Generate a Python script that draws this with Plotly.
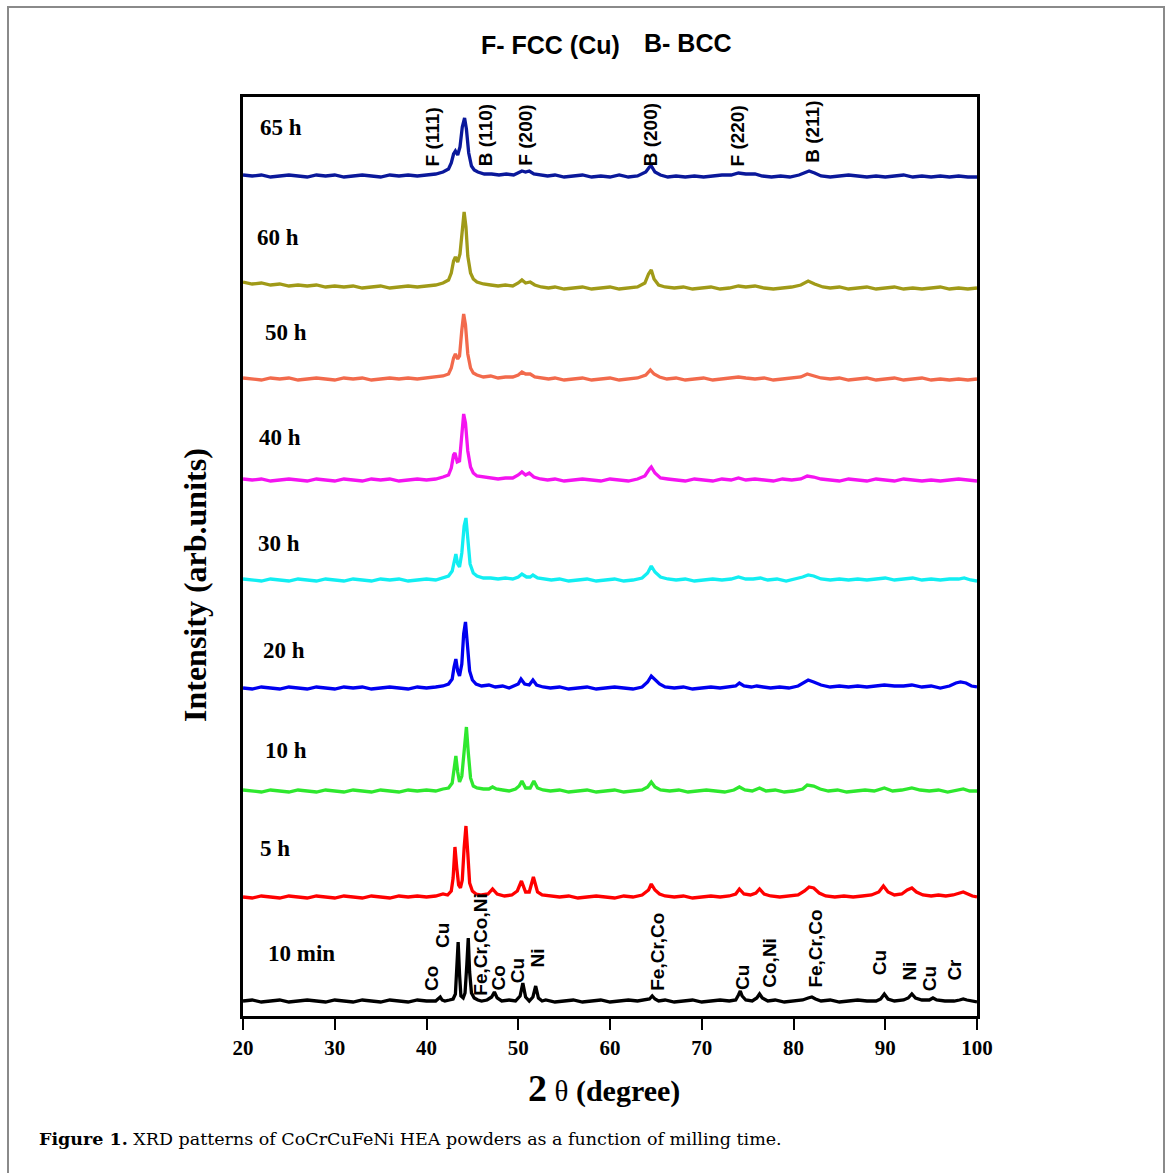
import plotly.graph_objects as go

# ---------------- data (heights above each pattern's own baseline, arb. units) ----------------
x_10min = [20,21,22,23,24,25,26,27,28,29,30,31,32,33,34,35,36,37,38,39,40,41,41.3,41.5,41.7,42,42.5,42.9,43.15,43.3,43.45,43.6,43.75,44.0,44.2,44.4,44.55,44.7,44.9,45.2,45.6,46,46.6,47.1,47.4,47.7,48.2,49,49.7,50.2,50.5,50.8,51.2,51.6,51.9,52.2,52.6,53,54,55,56,57,58,59,60,61,62,63,64,64.3,64.6,64.9,65.3,66,67,68,69,70,71,72,73,73.7,74.0,74.2,74.4,74.8,75.5,76.0,76.3,76.6,77.2,78,79,80,81,81.6,82.0,82.4,83,84,85,86,87,88,89,89.5,89.9,90.3,91,92,92.5,92.9,93.3,94,94.8,95.2,95.6,96.5,97.5,98.1,98.5,98.9,99.5,100]
y_10min = [1,2,0,1,2,0,1,2,1,0,2,1,0,2,1,0,2,1,0,2,1,1,3,5,2,1,2,3,8,30,60,28,6,4,9,38,64,30,9,4,2,1,2,5,10,4,1,2,1,6,19,5,1,5,16,4,1,2,0,1,2,0,1,2,0,1,2,1,2,3,6,3,1,2,0,1,2,0,1,2,1,2,7,11,6,2,1,4,8,4,1,2,0,1,2,4,5,3,1,2,0,1,2,1,1,3,8,3,1,2,4,8,4,2,2,4,2,1,1,2,3,2,1,0]

x_5h = [20,21,22,23,24,25,26,27,28,29,30,31,32,33,34,35,36,37,38,39,40,41,41.8,42.3,42.7,42.9,43.1,43.3,43.5,43.7,43.9,44.1,44.3,44.5,44.7,45.0,45.4,46,46.7,47.2,47.7,48.5,49.3,49.9,50.35,50.8,51.2,51.65,52.1,52.6,53.5,54.5,55.5,56.5,57.5,58.5,59.5,60.5,61.5,62.5,63.5,64.2,64.5,64.9,65.4,66,67,68,69,70,71,72,73,73.7,74.1,74.6,75.3,75.9,76.3,76.8,77.5,78.5,79.5,80.5,81.2,81.7,82.2,82.8,83.5,84.5,85.5,86.5,87.5,88.5,89.3,89.8,90.3,91,91.8,92.4,92.9,93.4,94.1,95,95.8,96.6,97.4,98.1,98.5,99,99.5,100]
y_5h = [1,0,2,1,0,2,1,0,2,1,0,2,1,0,2,1,0,2,1,2,1,2,4,3,7,20,51,30,13,10,18,50,72,45,15,7,4,3,4,9,4,2,3,7,17,6,6,21,6,3,2,1,2,0,1,2,1,0,2,1,3,8,14,8,4,2,1,2,0,1,2,1,2,4,9,4,3,5,9,4,2,1,2,3,7,11,10,5,2,1,2,1,2,3,6,12,6,3,4,8,10,6,3,2,3,2,3,5,6,4,2,1]

x_10h = [20,21,22,23,24,25,26,27,28,29,30,31,32,33,34,35,36,37,38,39,40,41,41.8,42.4,42.8,43.05,43.2,43.4,43.6,43.85,44.1,44.35,44.55,44.8,45.1,45.5,46.2,46.8,47.2,47.6,48.3,49,49.7,50.1,50.4,50.8,51.3,51.7,52.1,52.7,53.5,54.5,55.5,56.5,57.5,58.5,59.5,60.5,61.5,62.5,63.5,64.1,64.5,64.9,65.5,66.5,67.5,68.5,69.5,70.5,71.5,72.5,73.5,74.1,74.7,75.5,76.3,77,78,79,80,81,81.5,82.2,82.9,83.8,84.8,85.8,86.8,87.8,88.8,89.9,90.8,91.8,92.9,93.8,94.8,95.8,96.8,97.8,98.5,99.2,100]
y_10h = [2,1,0,2,1,0,2,1,0,2,1,0,2,1,0,2,1,0,2,1,2,1,3,4,9,25,36,20,10,16,45,65,40,14,6,4,3,3,5,3,2,1,3,6,11,4,4,11,4,2,1,2,0,1,2,0,1,2,0,1,2,5,10,5,2,1,2,0,1,2,1,0,2,5,2,1,4,1,2,0,1,3,7,6,3,1,2,0,1,2,1,4,1,2,4,2,1,2,0,2,3,1,1]

x_20h = [20,21,22,23,24,25,26,27,28,29,30,31,32,33,34,35,36,37,38,39,40,41,41.8,42.4,42.8,43.0,43.2,43.4,43.6,43.85,44.05,44.25,44.45,44.7,45.0,45.4,46,46.8,47.5,48.3,49,49.6,50.0,50.3,50.7,51.2,51.6,52.0,52.7,53.5,54.5,55.5,56.5,57.5,58.5,59.5,60.5,61.5,62.5,63.5,64.1,64.5,64.9,65.4,66,67,68,69,70,71,72,73,73.7,74.1,74.6,75.4,76.0,76.7,77.5,78.5,79.5,80.5,81.2,81.6,82.2,83,84,85,86,87,88,89,89.9,91,92,92.9,94,95,96,97,97.7,98.2,98.8,99.4,100]
y_20h = [1,0,2,1,0,2,1,0,2,1,0,2,1,2,0,1,2,1,0,2,1,2,3,5,10,22,30,18,13,25,55,67,42,18,9,5,3,4,2,3,1,3,5,10,5,4,9,4,2,1,2,0,1,2,0,1,2,1,0,2,7,13,9,5,2,1,2,0,1,2,1,2,3,6,3,2,3,2,1,2,1,3,7,9,7,4,2,3,2,3,2,3,4,3,3,4,2,3,1,3,6,7,6,3,2]

x_30h = [20,21,22,23,24,25,26,27,28,29,30,31,32,33,34,35,36,37,38,39,40,41,41.8,42.4,42.8,43.0,43.2,43.4,43.6,43.85,44.1,44.3,44.5,44.75,45.1,45.5,46.2,47,47.8,48.6,49.4,50.0,50.4,50.9,51.3,51.6,52.1,52.8,53.6,54.5,55.5,56.5,57.5,58.5,59.5,60.5,61.5,62.5,63.5,64.1,64.5,64.9,65.5,66.3,67.2,68.2,69.2,70.2,71.2,72.2,73.2,74,74.8,75.6,76.4,77.2,78.2,79.2,80.2,81,81.6,82.2,83,84,85,86,87,88,89,90,91,92,93,94,95,96,97,98,98.6,99.3,100]
y_30h = [2,1,0,2,1,0,2,1,0,2,1,0,2,1,0,2,1,2,0,1,2,1,3,5,10,20,27,17,14,28,55,63,40,17,8,5,3,3,2,3,2,4,7,4,4,6,3,2,1,2,0,1,2,0,1,2,0,1,3,8,15,9,4,2,1,2,0,1,2,1,2,4,2,2,3,1,2,0,2,4,6,5,2,1,2,1,2,1,2,3,1,2,3,1,2,1,2,2,3,1,0]

x_40h = [20,21,22,23,24,25,26,27,28,29,30,31,32,33,34,35,36,37,38,39,40,41,41.8,42.4,42.7,42.95,43.1,43.35,43.6,43.85,44.05,44.25,44.5,44.8,45.1,45.5,46.2,47,47.8,48.6,49.4,50.0,50.4,50.8,51.2,51.7,52.4,53.2,54,55,56,57,58,59,60,61,62,63,63.8,64.3,64.5,64.9,65.5,66.3,67.2,68.2,69.2,70.2,71.2,72.2,73.2,74,74.8,75.8,76.8,77.8,78.8,79.8,80.8,81.5,82.2,83,84,85,86,87,88,89,90,91,92,93,94,95,96,97,98,99,100]
y_40h = [2,1,2,0,1,2,1,0,2,1,0,2,1,0,2,1,2,0,1,2,1,2,4,6,13,26,28,19,20,45,67,58,30,14,8,5,4,3,2,3,3,6,9,6,8,4,2,1,2,0,1,2,1,0,2,1,0,2,5,12,14,8,3,2,1,0,2,1,0,2,1,3,1,2,1,0,2,1,2,5,4,2,1,0,2,1,0,2,1,0,2,1,0,1,0,1,2,1,0]

x_50h = [20,21,22,23,24,25,26,27,28,29,30,31,32,33,34,35,36,37,38,39,40,41,41.8,42.4,42.7,42.95,43.15,43.4,43.6,43.85,44.05,44.25,44.5,44.8,45.1,45.5,46.2,47,47.8,48.6,49.4,50.0,50.4,50.8,51.3,51.8,52.5,53.3,54,55,56,57,58,59,60,61,62,63,63.9,64.4,64.8,65.4,66.2,67.2,68.2,69.2,70.2,71.2,72.2,73.2,74,74.8,75.8,76.8,77.8,78.8,79.8,80.8,81.5,82.2,83,84,85,86,87,88,89,90,91,92,93,94,95,96,97,98,99,100]
y_50h = [2,1,0,2,1,2,0,1,2,1,0,2,1,2,0,1,2,1,2,1,2,3,4,6,12,22,26,21,24,50,66,55,26,12,7,5,3,4,2,3,3,5,8,6,6,3,2,1,2,0,1,2,0,1,2,0,1,2,5,10,6,3,1,2,0,1,2,0,1,2,3,2,1,2,0,1,2,3,6,4,2,1,2,0,1,2,0,1,2,0,1,2,0,1,0,1,0,1]

x_60h = [20,21,22,23,24,25,26,27,28,29,30,31,32,33,34,35,36,37,38,39,40,41,41.8,42.4,42.7,42.95,43.15,43.4,43.65,43.9,44.1,44.3,44.5,44.8,45.1,45.5,46.2,47,47.8,48.6,49.4,50.0,50.4,50.8,51.3,51.8,52.5,53.3,54,55,56,57,58,59,60,61,62,63,63.8,64.2,64.5,64.8,65.3,66,67,68,69,70,71,72,73,74,74.8,75.8,76.8,77.8,78.8,79.8,80.8,81.6,82.3,83.2,84,85,86,87,88,89,90,91,92,93,94,95,96,97,98,99,100]
y_60h = [7,5,6,4,5,3,4,3,4,2,3,2,3,1,2,3,1,2,3,2,3,4,6,9,16,28,32,27,35,62,77,62,33,16,10,7,5,4,3,4,3,6,9,6,7,4,2,1,2,0,1,2,0,1,2,0,1,2,6,15,19,10,4,2,1,2,0,1,2,0,1,3,2,3,1,0,1,2,4,8,5,2,1,2,0,1,2,0,1,2,0,1,0,1,2,0,1,0,1]

x_65h = [20,21,22,23,24,25,26,27,28,29,30,31,32,33,34,35,36,37,38,39,40,41,41.8,42.4,42.7,42.95,43.15,43.4,43.65,43.9,44.15,44.35,44.6,44.9,45.2,45.6,46.3,47.1,47.9,48.7,49.5,50.0,50.4,50.8,51.2,51.7,52.4,53.2,54,55,56,57,58,59,60,61,62,63,63.9,64.3,64.5,64.9,65.5,66.3,67.2,68.2,69.2,70.2,71.2,72.2,73.2,74,74.8,75.8,76.6,77.6,78.6,79.6,80.6,81.2,81.7,82.3,83,84,85,86,87,88,89,90,91,92,93,94,95,96,97,98,99,100]
y_65h = [2,1,2,0,1,2,1,0,2,1,2,0,1,2,1,0,2,1,2,1,2,3,5,8,14,23,26,22,30,50,59,48,24,11,7,5,3,3,2,3,2,4,6,5,6,3,2,1,2,0,1,2,0,1,0,2,0,1,5,10,11,5,2,0,1,0,1,0,1,2,2,4,3,3,1,0,1,0,2,4,6,4,1,0,1,2,1,0,1,0,1,2,0,1,0,1,0,1,0,0]

labels = ["10 min", "5 h", "10 h", "20 h", "30 h", "40 h", "50 h", "60 h", "65 h"]
xs = [x_10min, x_5h, x_10h, x_20h, x_30h, x_40h, x_50h, x_60h, x_65h]
ys = [y_10min, y_5h, y_10h, y_20h, y_30h, y_40h, y_50h, y_60h, y_65h]
offsets = [14, 118, 224, 327, 435, 535, 636, 727, 839]
colors = ["#000000", "#ff0000", "#2ee82e", "#0000f0", "#12eef2", "#f414f0", "#f26a4c", "#a09a18", "#0a189a"]

# label positions (x in degrees, y in axis units)
label_x = [22.5, 21.6, 22.2, 22.0, 21.4, 21.5, 22.2, 21.3, 21.6]
label_y = [63, 168, 266, 366, 473, 579, 684, 779, 889]

top_peaks = ["F (111)", "B (110)", "F (200)", "B (200)", "F (220)", "B (211)"]
top_peak_x = [40.7, 46.4, 50.75, 64.45, 73.95, 82.0]
top_peak_y = [848, 848, 848, 848, 848, 851]

bot_peaks = ["Co", "Cu", "Fe,Cr,Co,Ni", "Co", "Cu", "Ni", "Fe,Cr,Co", "Cu", "Co,Ni", "Fe,Cr,Co", "Cu", "Ni", "Cu", "Cr"]
bot_peak_x = [40.55, 41.75, 45.8, 47.8, 49.95, 52.05, 65.1, 74.45, 77.3, 82.3, 89.4, 92.6, 94.85, 97.45]
bot_peak_y = [23, 66, 18, 23, 31, 46, 23, 24, 26, 26, 39, 33, 23, 33]

x_ticks = [20, 30, 40, 50, 60, 70, 80, 90, 100]

# ---------------- figure ----------------
W, H = 1169, 1173
L, R, T, B = 243, 977, 97, 1016
fig = go.Figure()

for x, y, off, c, name in zip(xs, ys, offsets, colors, labels):
    fig.add_trace(go.Scatter(x=x, y=[v + off for v in y], mode="lines",
                             line=dict(color=c, width=3.3), name=name, hoverinfo="skip"))

serif = "Liberation Serif"
sans = "Liberation Sans"

ann = []
for t, lx, ly in zip(labels, label_x, label_y):
    ann.append(dict(x=lx, y=ly, xref="x", yref="y", text="<b>%s</b>" % t, showarrow=False,
                    xanchor="left", yanchor="middle", font=dict(family=serif, size=23, color="black")))
for t, px, py in zip(top_peaks, top_peak_x, top_peak_y):
    ann.append(dict(x=px, y=py, xref="x", yref="y", text="<b>%s</b>" % t, showarrow=False,
                    textangle=-90, xanchor="center", yanchor="bottom",
                    font=dict(family=sans, size=19, color="black")))
for t, px, py in zip(bot_peaks, bot_peak_x, bot_peak_y):
    ann.append(dict(x=px, y=py, xref="x", yref="y", text="<b>%s</b>" % t, showarrow=False,
                    textangle=-90, xanchor="center", yanchor="bottom",
                    font=dict(family=sans, size=19, color="black")))

def px2paper(px, py):
    return (px - L) / (R - L), (B - py) / (B - T)

# title
tx, ty = px2paper(550, 45)
ann.append(dict(x=tx, y=ty, xref="paper", yref="paper", text="<b>F- FCC (Cu)</b>", showarrow=False,
                xanchor="center", yanchor="middle", font=dict(family=sans, size=25, color="black")))
tx, ty = px2paper(688, 43)
ann.append(dict(x=tx, y=ty, xref="paper", yref="paper", text="<b>B- BCC</b>", showarrow=False,
                xanchor="center", yanchor="middle", font=dict(family=sans, size=25, color="black")))
# y title
tx, ty = px2paper(195, 585)
ann.append(dict(x=tx, y=ty, xref="paper", yref="paper", text="<b>Intensity (arb.units)</b>", showarrow=False,
                textangle=-90, xanchor="center", yanchor="middle", font=dict(family=serif, size=32, color="black")))
# x title
tx, ty = px2paper(604, 1088)
ann.append(dict(x=tx, y=ty, xref="paper", yref="paper",
                text="<b><span style='font-size:38px'>2</span></b> <span style='font-size:29px'>θ</span> <b>(degree)</b>",
                showarrow=False, xanchor="center", yanchor="middle", font=dict(family=serif, size=30, color="black")))
# caption
tx, ty = px2paper(37, 1139)
ann.append(dict(x=tx, y=ty, xref="paper", yref="paper",
                text="<b>Figure 1.</b> XRD patterns of CoCrCuFeNi HEA powders as a function of milling time.",
                showarrow=False, xanchor="left", yanchor="middle", font=dict(family="DejaVu Serif", size=17.5, color="black")))

bx0, by0 = px2paper(8, 1190)
bx1, by1 = px2paper(1164, 7)
shapes = [dict(type="rect", xref="paper", yref="paper", x0=bx0, x1=bx1, y0=by0, y1=by1,
               line=dict(color="#8a8a8a", width=2), fillcolor="rgba(0,0,0,0)", layer="below")]

fig.update_layout(
    width=W, height=H,
    margin=dict(l=L, r=W - R, t=T, b=H - B, pad=0),
    paper_bgcolor="white", plot_bgcolor="white",
    showlegend=False,
    annotations=ann, shapes=shapes,
    xaxis=dict(range=[20, 100], tickvals=x_ticks, ticktext=["<b>%d</b>" % v for v in x_ticks],
               ticks="outside", ticklen=11, tickwidth=2, tickcolor="black",
               showline=True, linewidth=2.5, linecolor="black", mirror=True,
               showgrid=False, zeroline=False,
               tickfont=dict(family=serif, size=21, color="black")),
    yaxis=dict(range=[0, B - T], showticklabels=False, ticks="", showline=True, linewidth=2.5,
               linecolor="black", mirror=True, showgrid=False, zeroline=False),
)

fig.write_html("out.html")
